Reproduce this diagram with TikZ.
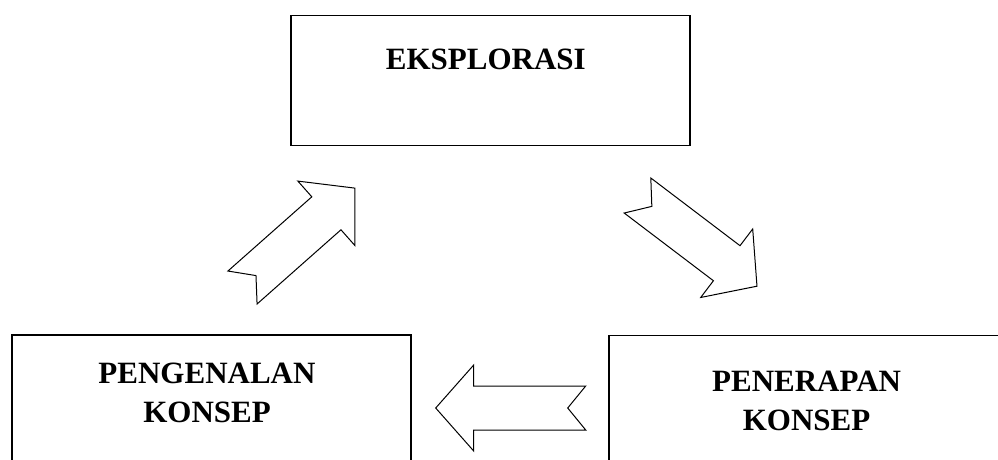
\documentclass[tikz,border=0pt]{standalone}
\usepackage{fontspec}
\setmainfont{Liberation Serif}
\usetikzlibrary{positioning}

\begin{document}
\begin{tikzpicture}[
      x=1pt, y=-1pt,
      box/.style={draw, line width=1.5pt, minimum width=399pt, minimum height=130pt, inner sep=0pt},
      title/.style={font=\fontsize{31}{39}\selectfont\bfseries, align=center, inner sep=0pt, anchor=north},
      notcharrow/.pic={
        \draw[line width=1pt, miter limit=10, fill=white]
          (0,22) -- (112,22) -- (112,43) -- (150,0) -- (112,-43) -- (112,-22) -- (0,-22) -- (18,0) -- cycle;
      }
    ]
    \useasboundingbox (0,0) rectangle (998,459);

    % the three stages
    \node[box] (eksplorasi) at (490.35,80.7) {};
    \node[box] (pengenalan) at (211.5,400) {};
    \node[box] (penerapan) at (808.6,400.7) {};

    \node[title, below=34pt of eksplorasi.north, xshift=-4.5pt] (eksplorasi-text) {EKSPLORASI};
    \node[title, below=28.3pt of pengenalan.north, xshift=-4.5pt] (pengenalan-text) {PENGENALAN\\KONSEP};
    \node[title, below=36pt of penerapan.north, xshift=-2pt] (penerapan-text) {PENERAPAN\\KONSEP};

    % notched block arrows between the stages
    \coordinate (up-tail) at (242.5,287.5);
    \coordinate (down-tail) at (637.5,195.5);
    \coordinate (left-tail) at (585.7,408);

    \pic[rotate=41.5] at (up-tail) {notcharrow};
    \pic[rotate=-37.2] at (down-tail) {notcharrow};
    \pic[rotate=180] at (left-tail) {notcharrow};

\end{tikzpicture}
\end{document}
